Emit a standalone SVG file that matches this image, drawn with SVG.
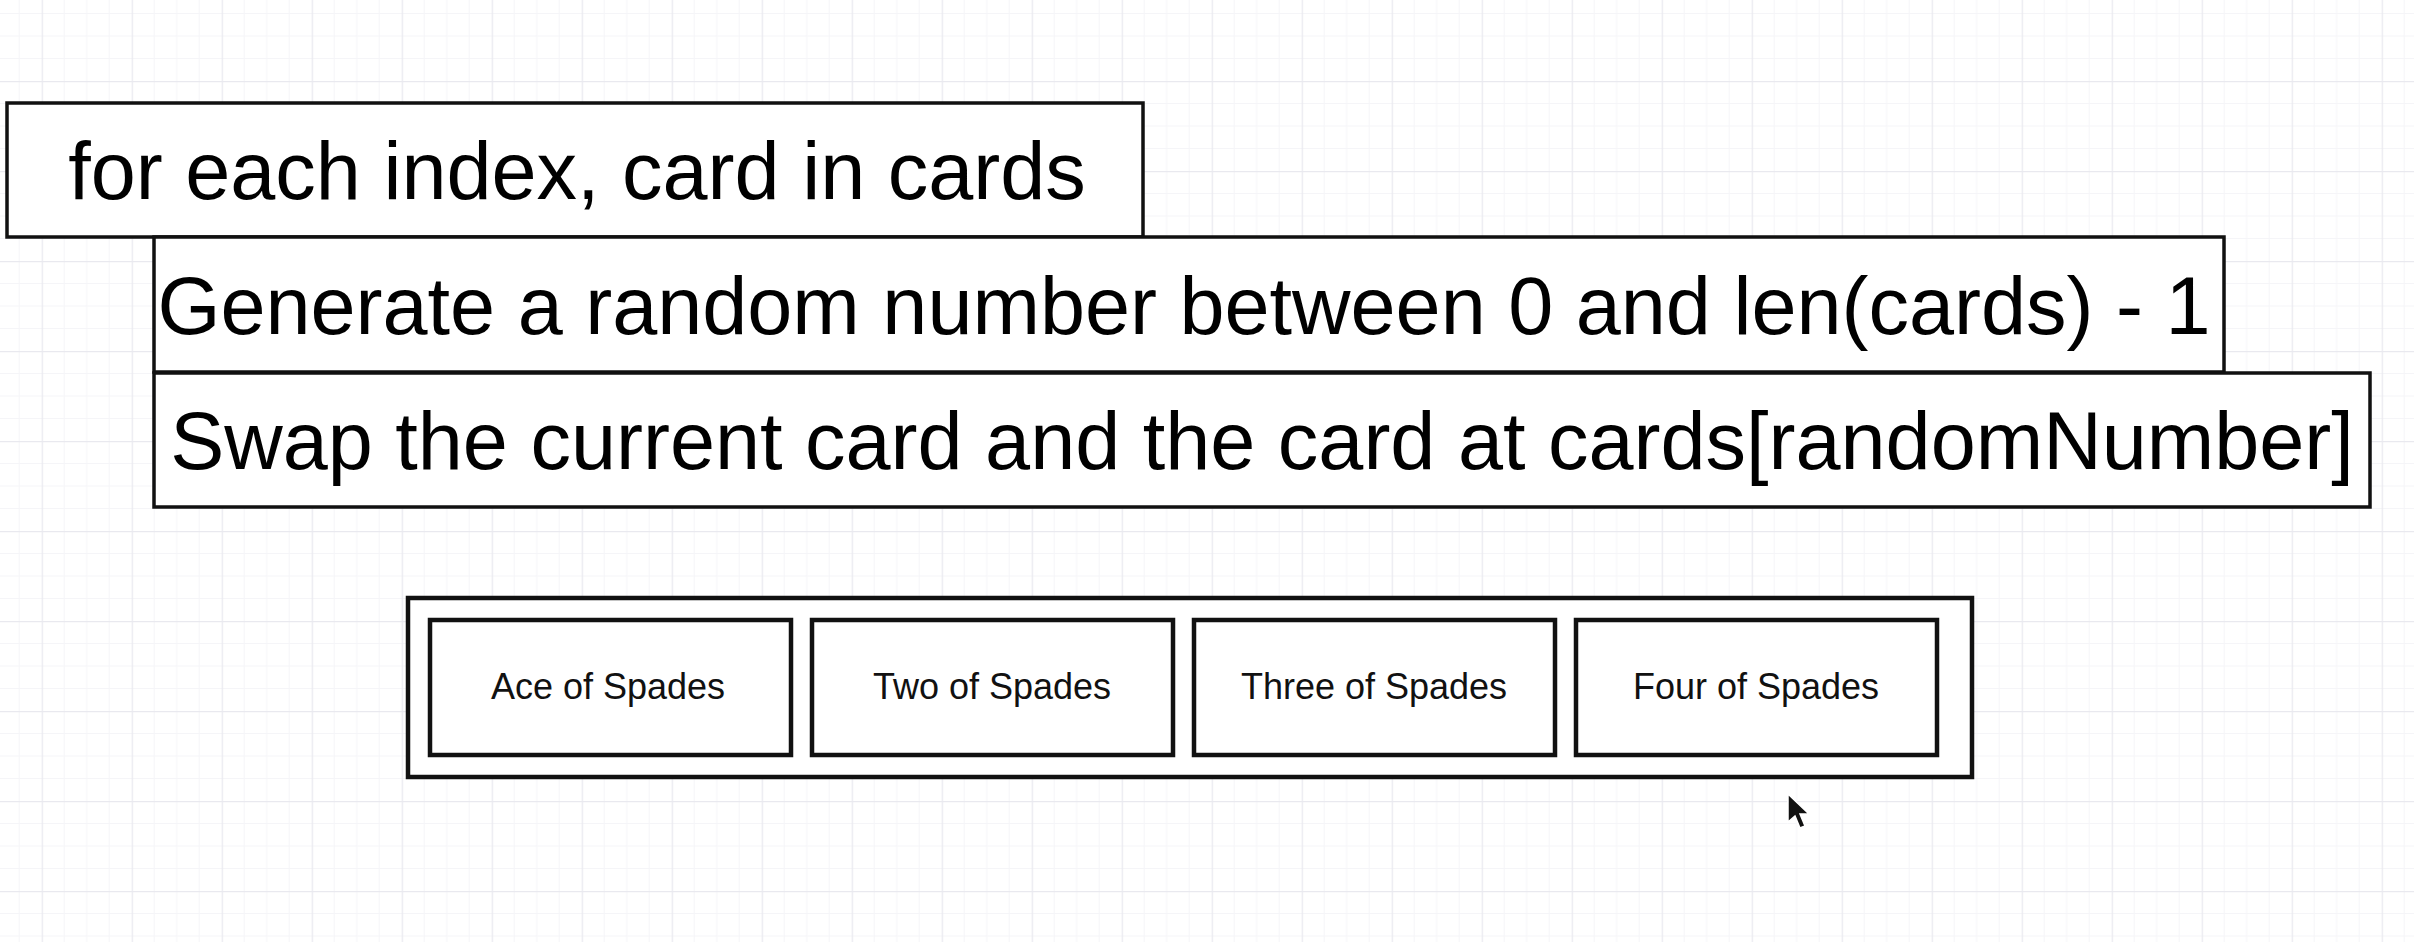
<svg xmlns="http://www.w3.org/2000/svg" width="2414" height="942" viewBox="0 0 2414 942">
<style>
.big{fill:#fff;stroke:#111;stroke-width:3.5}
.card{fill:#fff;stroke:#111;stroke-width:4.5}
.t{font-family:"Liberation Sans",Arial,Helvetica,sans-serif;fill:#000;text-anchor:middle}
.bt{font-size:81px}
.ct{font-size:36px;fill:#111}
</style>
<defs>
<pattern id="grid" patternUnits="userSpaceOnUse" x="41.7" y="81" width="90" height="90">
<path d="M22.5 0V90M45 0V90M67.5 0V90M0 22.5H90M0 45H90M0 67.5H90" stroke="#f5f5f8" stroke-width="1" fill="none"/>
<path d="M0.5 0V90M0 0.5H90" stroke="#e9e9ef" stroke-width="1.5" fill="none"/>
</pattern>
</defs>
<rect x="0" y="0" width="2414" height="942" fill="#fff"/>
<rect x="0" y="0" width="2414" height="942" fill="url(#grid)"/>
<g id="connectors"></g>
<g id="loop">
<rect class="big" x="7" y="103" width="1136" height="134"/>
<text class="t bt" x="577" y="199">for each index, card in cards</text>
</g>
<g id="generate">
<rect class="big" x="154" y="237" width="2070" height="135"/>
<text class="t bt" x="1184" y="334">Generate a random number between 0 and len(cards) - 1</text>
</g>
<g id="swap">
<rect class="big" x="154" y="373" width="2216" height="134"/>
<text class="t bt" x="1262" y="469">Swap the current card and the card at cards[randomNumber]</text>
</g>
<g id="cards">
<rect class="card" x="408" y="598" width="1564" height="179"/>
</g>
<g id="card1">
<rect class="card" x="430" y="620" width="361" height="135"/>
<text class="t ct" x="608" y="699">Ace of Spades</text>
</g>
<g id="card2">
<rect class="card" x="812" y="620" width="361" height="135"/>
<text class="t ct" x="992" y="699">Two of Spades</text>
</g>
<g id="card3">
<rect class="card" x="1194" y="620" width="361" height="135"/>
<text class="t ct" x="1374" y="699">Three of Spades</text>
</g>
<g id="card4">
<rect class="card" x="1576" y="620" width="361" height="135"/>
<text class="t ct" x="1756" y="699">Four of Spades</text>
</g>
<polygon points="1788,794 1788,822 1795,816 1800,828 1805,826 1800,814 1809,814" fill="#111" stroke="#fff" stroke-width="1.5"/>
</svg>
